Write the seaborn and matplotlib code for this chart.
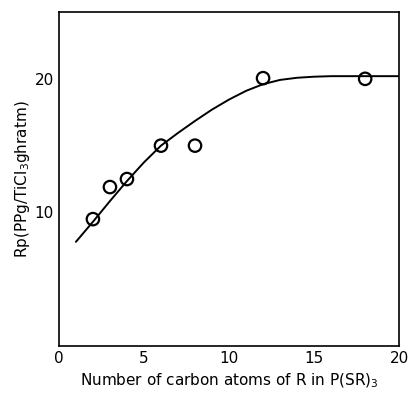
import matplotlib
matplotlib.use("Agg")
import matplotlib.pyplot as plt
import seaborn as sns
import pandas as pd

# measured points
carbon_n = [2, 3, 4, 6, 8, 12, 18]
rp_vals = [9.5, 11.9, 12.5, 15.0, 15.0, 20.05, 20.0]

# fitted curve
curve_x = [1, 2, 3, 4, 5, 6, 7, 8, 9, 10, 11, 12, 13, 14, 15, 16, 17, 18, 19, 20]
curve_y = [7.8, 9.3, 10.85, 12.35, 13.75, 15.0, 15.95, 16.85, 17.7, 18.45, 19.1, 19.6, 19.92, 20.08, 20.16, 20.2, 20.2, 20.2, 20.2, 20.2]

x_ticks = [0, 5, 10, 15, 20]
y_ticks = [10, 20]

sns.set_style("white")
plt.rcParams['font.family'] = ['DejaVu Sans']

fig = plt.figure(figsize=(4.09, 4.01), dpi=100)
ax = fig.add_axes([0.144, 0.137, 0.832, 0.833])

df_pts = pd.DataFrame({"n": carbon_n, "rp": rp_vals})
df_curve = pd.DataFrame({"x": curve_x, "y": curve_y})

sns.lineplot(data=df_curve, x="x", y="y", ax=ax, color="black", linewidth=1.4)
sns.scatterplot(data=df_pts, x="n", y="rp", ax=ax, s=80, facecolor="none",
                edgecolor="black", linewidth=1.6, zorder=3)

ax.set_xlim(0, 20)
ax.set_ylim(0, 25)
ax.set_xticks(x_ticks)
ax.set_yticks(y_ticks)
ax.tick_params(direction="in", length=3, width=1, labelsize=11, colors="black")
for s in ax.spines.values():
    s.set_color("black")
    s.set_linewidth(1.2)

ax.set_xlabel("Number of carbon atoms of R in P(SR)$_3$", fontsize=11, labelpad=4, color="black")
ax.set_ylabel("Rp(PPg/TiCl$_3$ghratm)", fontsize=11, labelpad=2, color="black")

fig.savefig("out.png", dpi=100)
